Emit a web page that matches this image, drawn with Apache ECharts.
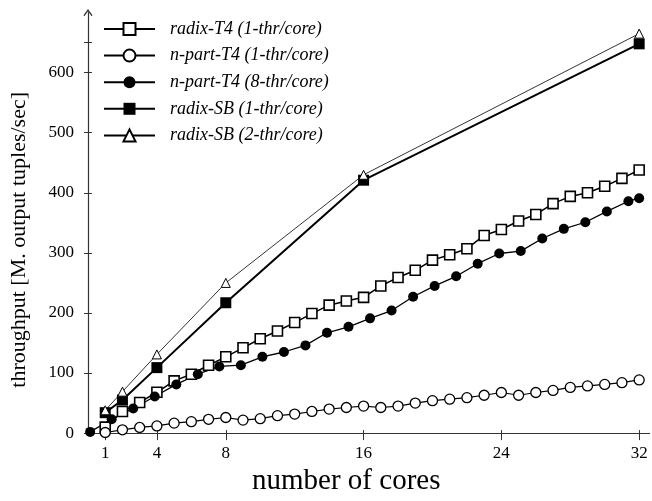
<!DOCTYPE html>
<html><head><meta charset="utf-8">
<script src="https://cdn.jsdelivr.net/npm/echarts@6/dist/echarts.min.js"></script>
<style>html,body{margin:0;padding:0;background:#fff}#c{width:652px;height:501px}</style>
</head><body><div id="c"></div>
<script>
// ---- data ----
const seriesNames = [
  'radix-T4 (1-thr/core)',
  'n-part-T4 (1-thr/core)',
  'n-part-T4 (8-thr/core)',
  'radix-SB (1-thr/core)',
  'radix-SB (2-thr/core)'
];
const coresAll = [1,2,3,4,5,6,7,8,9,10,11,12,13,14,15,16,17,18,19,20,21,22,23,24,25,26,27,28,29,30,31,32];
const radixT4_1thr = [10,36,51,68,87,98,113,127,142,157,170,184,199,213,220,226,245,259,271,288,297,307,329,339,353,364,382,394,400,411,424,438];
const npartT4_1thr = [1,5.5,9.4,12,16.6,19,23,26,21.6,24,29,31.6,36,40,42.6,45,42.6,45,50,54,56.5,59,63,67.6,63,67.6,71,76,78.6,81,84,88.5];
const npartT4_8thrCores = [0.125,1.375,2.625,3.875,5.125,6.375,7.625,8.875,10.125,11.375,12.625,13.875,15.125,16.375,17.625,18.875,20.125,21.375,22.625,23.875,25.125,26.375,27.625,28.875,30.125,31.375,32];
const npartT4_8thr = [2,23,41,61,81,98,111,113,127,135,146,167,177,191,204,227,245,261,282,299,303,324,340,351,369,386,391];
const radixSBCores = [1,2,4,8,16,32];
const radixSB_1thr = [34,55,109,217,421,648];
const radixSB_2thr = [38,69,131,250,430,665];
const xTickValues = [1,4,8,16,24,32];
const yLabelValues = [0,100,200,300,400,500,600];
const yTickValues = [0,100,200,300,400,500,600,650];

const zip = (xs, ys) => xs.map((x, i) => [x, ys[i]]);
const FONT = 'Liberation Serif';
const AX = '#333';

const chart = echarts.init(document.getElementById('c'), null, {renderer: 'canvas'});

const openStyle = (bw) => ({color: '#fff', borderColor: '#000', borderWidth: bw});
const fillStyle = {color: '#000', borderColor: '#000', borderWidth: 0};

chart.setOption({
  animation: false,
  backgroundColor: '#fff',
  grid: {left: 82.6, right: 2.5, top: 12.6, bottom: 67, containLabel: false},
  legend: {
    orient: 'vertical', left: 98, top: 15,
    itemWidth: 51, itemHeight: 15, itemGap: 8.6,
    selectedMode: false,
    data: seriesNames,
    textStyle: {fontFamily: FONT, fontStyle: 'italic', fontSize: 18, color: '#000', lineHeight: 18, padding: [0,0,0,10]}
  },
  xAxis: [{
    type: 'value', min: 0, max: 32.6,
    axisLine: {show: true, lineStyle: {color: AX, width: 1.2}},
    axisTick: {show: true, customValues: xTickValues, length: 7, lineStyle: {color: AX, width: 1}},
    axisLabel: {customValues: xTickValues, margin: 12, fontFamily: FONT, fontSize: 17, color: '#000'},
    splitLine: {show: false},
    name: 'number of cores', nameLocation: 'middle', nameGap: 23,
    nameTextStyle: {fontFamily: FONT, fontSize: 29, color: '#000', padding: [0,45,0,0]}
  }, {
    type: 'value', min: 0, max: 32.6, position: 'bottom',
    axisLine: {show: false},
    axisTick: {show: true, inside: true, customValues: xTickValues, length: 3, lineStyle: {color: AX, width: 1}},
    axisLabel: {show: false}, splitLine: {show: false}
  }],
  yAxis: [{
    type: 'value', min: 0, max: 700,
    axisLine: {show: true, lineStyle: {color: AX, width: 1.2},
      symbol: ['none', 'path://M5,0 L10,7 L9,8 L5,2.5 L1,8 L0,7 Z'], symbolSize: [9, 8]},
    axisTick: {show: true, customValues: yTickValues, length: 4, lineStyle: {color: AX, width: 1}},
    axisLabel: {customValues: yLabelValues, margin: 14, fontFamily: FONT, fontSize: 17, color: '#000'},
    splitLine: {show: false},
    name: 'throughput [M. output tuples/sec]', nameLocation: 'middle', nameGap: 58,
    nameTextStyle: {fontFamily: FONT, fontSize: 22, color: '#000', padding: [0,34,0,0]}
  }, {
    type: 'value', min: 0, max: 700, position: 'left',
    axisLine: {show: false},
    axisTick: {show: true, inside: true, customValues: yTickValues, length: 4, lineStyle: {color: AX, width: 1}},
    axisLabel: {show: false}, splitLine: {show: false}
  }],
  series: [{
    name: seriesNames[0], type: 'line', data: zip(coresAll, radixT4_1thr),
    symbol: 'rect', symbolSize: 10, itemStyle: openStyle(1.6),
    lineStyle: {color: '#000', width: 1.5}, emphasis: {disabled: true}, silent: true
  }, {
    name: seriesNames[1], type: 'line', data: zip(coresAll, npartT4_1thr),
    symbol: 'circle', symbolSize: 10, itemStyle: openStyle(1.3),
    lineStyle: {color: '#000', width: 1.2}, emphasis: {disabled: true}, silent: true
  }, {
    name: seriesNames[2], type: 'line', data: zip(npartT4_8thrCores, npartT4_8thr),
    symbol: 'circle', symbolSize: 10, itemStyle: fillStyle,
    lineStyle: {color: '#000', width: 1.3}, emphasis: {disabled: true}, silent: true
  }, {
    name: seriesNames[3], type: 'line', data: zip(radixSBCores, radixSB_1thr),
    symbol: 'rect', symbolSize: 11, itemStyle: fillStyle,
    lineStyle: {color: '#000', width: 2}, emphasis: {disabled: true}, silent: true
  }, {
    name: seriesNames[4], type: 'line', data: zip(radixSBCores, radixSB_2thr),
    symbol: 'triangle', symbolSize: 9, itemStyle: openStyle(1),
    lineStyle: {color: '#000', width: 0.8}, emphasis: {disabled: true}, silent: true
  }]
});
</script>
</body></html>
